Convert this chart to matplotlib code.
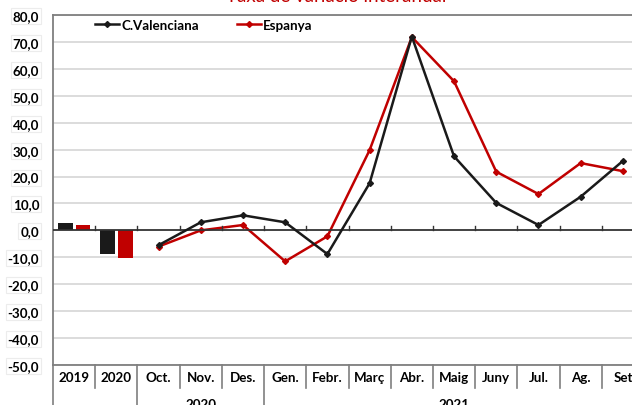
import matplotlib
matplotlib.use("Agg")
import matplotlib.pyplot as plt
import matplotlib.transforms as mtransforms
import numpy as np

# ---- data ----
annual_labels = ["2019", "2020"]
annual_cv = [2.8, -8.7]
annual_esp = [2.1, -10.2]

month_labels = ["Oct.", "Nov.", "Des.", "Gen.", "Febr.", "Març", "Abr.", "Maig",
                "Juny", "Jul.", "Ag.", "Set"]
month_cv = [-5.5, 3.0, 5.6, 3.0, -8.8, 17.5, 72.0, 27.5, 10.2, 2.0, 12.5, 25.8]
month_esp = [-6.0, 0.0, 2.0, -11.5, -2.2, 29.8, 71.8, 55.4, 21.8, 13.5, 25.0, 22.0]

groups = [("2020", 2, 5), ("2021", 5, 14)]
title = "Taxa de variació interanual"
yticks = list(range(-50, 81, 10))

BLACK = "#1a1a1a"
RED = "#c00000"
FONT = "Lato"
FS = 9.6

fig = plt.figure(figsize=(6.32, 4.06), dpi=100)
W, H = 632, 406
left, right, top, bottom = 53, 644, 16, 366
ax = fig.add_axes([left / W, 1 - bottom / H, (right - left) / W, (bottom - top) / H])

ncat = len(annual_labels) + len(month_labels)
ax.set_xlim(0, ncat)
ax.set_ylim(-50, 80)

# grid
for v in yticks:
    if v != 0:
        ax.axhline(v, color="#d9d9d9", lw=1.3, zorder=0)

# bars
xa = np.arange(len(annual_labels))
bw = 0.35
ax.bar(xa + 0.29, annual_cv, width=bw, color=BLACK, zorder=2)
ax.bar(xa + 0.71, annual_esp, width=bw, color=RED, zorder=2)

# lines
xm = np.arange(len(annual_labels), ncat) + 0.5
ax.plot(xm, month_cv, color=BLACK, lw=1.8, marker="D", ms=3, label="C.Valenciana", zorder=4)
ax.plot(xm, month_esp, color=RED, lw=1.8, marker="D", ms=3, label="Espanya", zorder=3)

# zero line and ticks
ax.axhline(0, color="#333333", lw=1.3, zorder=3)
for b in range(1, ncat):
    ax.plot([b, b], [0, 1.6], color="#333333", lw=1.0, zorder=3)

# spines
for s in ["left", "top", "bottom"]:
    ax.spines[s].set_color("#7f7f7f")
    ax.spines[s].set_linewidth(1.3)
ax.spines["right"].set_visible(False)

ax.set_yticks(yticks)
ax.set_yticklabels([f"{v:.1f}".replace(".", ",") for v in yticks],
                   fontfamily=FONT, fontweight="bold", fontsize=FS)
for lbl in ax.get_yticklabels():
    lbl.set_bbox(dict(boxstyle="square,pad=0.15", fc="white", ec="#ececec", lw=0.8))
ax.tick_params(axis="y", length=0, pad=10)
ax.set_xticks([])

# category labels below axis
trans = mtransforms.blended_transform_factory(ax.transData, ax.transAxes)
px = 1 / (bottom - top)
all_labels = annual_labels + month_labels
for i, lab in enumerate(all_labels):
    ax.text(i + 0.5, -12 * px, lab, transform=trans, ha="center", va="center",
            fontfamily=FONT, fontweight="bold", fontsize=FS, clip_on=False)
group_edges = {0, 2, 5}
for b in range(0, ncat):
    ylow = -45 * px if b in group_edges else -23 * px
    ax.plot([b, b], [0, ylow], transform=trans, color="#7f7f7f", lw=1.2, clip_on=False)
for name, a, bnd in groups:
    ax.text((a + bnd) / 2, -39 * px, name, transform=trans, ha="center", va="center",
            fontfamily=FONT, fontweight="bold", fontsize=FS, clip_on=False)

# legend
ax.legend(loc="upper left", bbox_to_anchor=((95 - left) / (right - left), 0.99),
          ncol=2, frameon=False, borderpad=0, borderaxespad=0,
          handlelength=1.8, handletextpad=0.2, columnspacing=2.8,
          prop=dict(family=FONT, weight="bold", size=FS))

# title (cropped at top)
fig.text(336 / W, 1 - 2.5 / H, title, color=RED, ha="center", va="baseline",
         fontfamily=FONT, fontsize=13.5)

fig.savefig("out.png", dpi=100)
